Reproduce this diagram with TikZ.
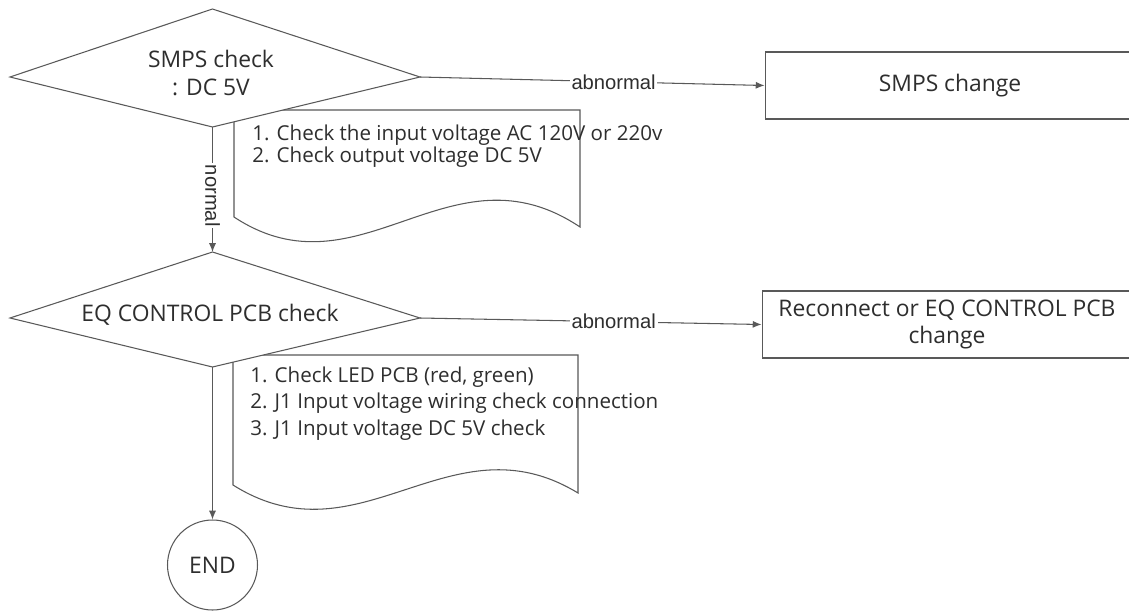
\documentclass[tikz,border=0pt]{standalone}
\usepackage{fontspec}
\setmainfont{Open Sans}
\newfontfamily\arialfont{Liberation Sans}
\usetikzlibrary{arrows.meta}
\definecolor{lc}{gray}{0.35}
\definecolor{tc}{gray}{0.18}
\begin{document}
\begin{tikzpicture}[x=0.02cm,y=-0.02cm,
  every node/.style={text=tc},
  ln/.style={draw=lc, line width=0.6pt},
  arr/.style={ln, -{Latex[length=5pt,width=4pt]}},
  big/.style={font=\fontsize{13}{15.6}\selectfont},
  lst/.style={font=\fontsize{11.7}{14}\selectfont, anchor=base west, inner sep=0pt},
  lbl/.style={font=\arialfont\fontsize{11.5}{13}\selectfont, fill=white, inner sep=1pt},
  box/.style={ln, big, align=center, minimum width=7.4cm, minimum height=1.34cm, inner sep=0pt}]
\clip (0,0) rectangle (1129,612);
\fill[white] (0,0) rectangle (1129,612);
% documents (behind the decisions)
\draw[ln] (234,110) -- (580,110) -- (580,227) .. controls (450,140) and (360,300) .. (234,217) -- cycle;
\draw[ln] (233,355) -- (578,355) -- (578,493) .. controls (450,415) and (360,565) .. (233,485) -- cycle;
\node[lst] (l11) at (252,140) {1. Check the input voltage AC 120V or 220v};
\node[lst] (l12) at (252,162) {2. Check output voltage DC 5V};
\node[lst] (l21) at (250,382) {1. Check LED PCB (red, green)};
\node[lst] (l22) at (250,408) {2. J1 Input voltage wiring check connection};
\node[lst] (l23) at (250,435) {3. J1 Input voltage DC 5V check};
% decision 1
\coordinate (d1t) at (212.5,9);
\coordinate (d1l) at (10,77);
\coordinate (d1r) at (420,77);
\coordinate (d1b) at (212.5,127);
\draw[ln, fill=white] (d1t) -- (d1r) -- (d1b) -- (d1l) -- cycle;
\node[big, align=center] (d1) at (211,73) {SMPS check\\: DC 5V};
% decision 2
\coordinate (d2t) at (212.5,252);
\coordinate (d2l) at (10,318);
\coordinate (d2r) at (420,318);
\coordinate (d2b) at (212.5,367);
\draw[ln, fill=white] (d2t) -- (d2r) -- (d2b) -- (d2l) -- cycle;
\node[big] (d2) at (210,315) {EQ CONTROL PCB check};
% boxes
\node[box] (b1) at (950,85.5) {SMPS change};
\node[box] (b2) at (947,324.5) {Reconnect or EQ CONTROL PCB\\change};
% end
\node[ln, big, circle, minimum size=1.8cm, inner sep=0pt] (end) at (212.5,565) {END};
% connectors
\draw[arr] (d1r) -- (b1.west) node[lbl, pos=0.562] {abnormal};
\draw[arr] (d2r) -- (b2.west) node[lbl, pos=0.567] {abnormal};
\draw[arr] (d1b) -- (d2t) node[lbl, pos=0.55, rotate=-90] {normal};
\draw[arr] (d2b) -- (end);
\end{tikzpicture}
\end{document}
